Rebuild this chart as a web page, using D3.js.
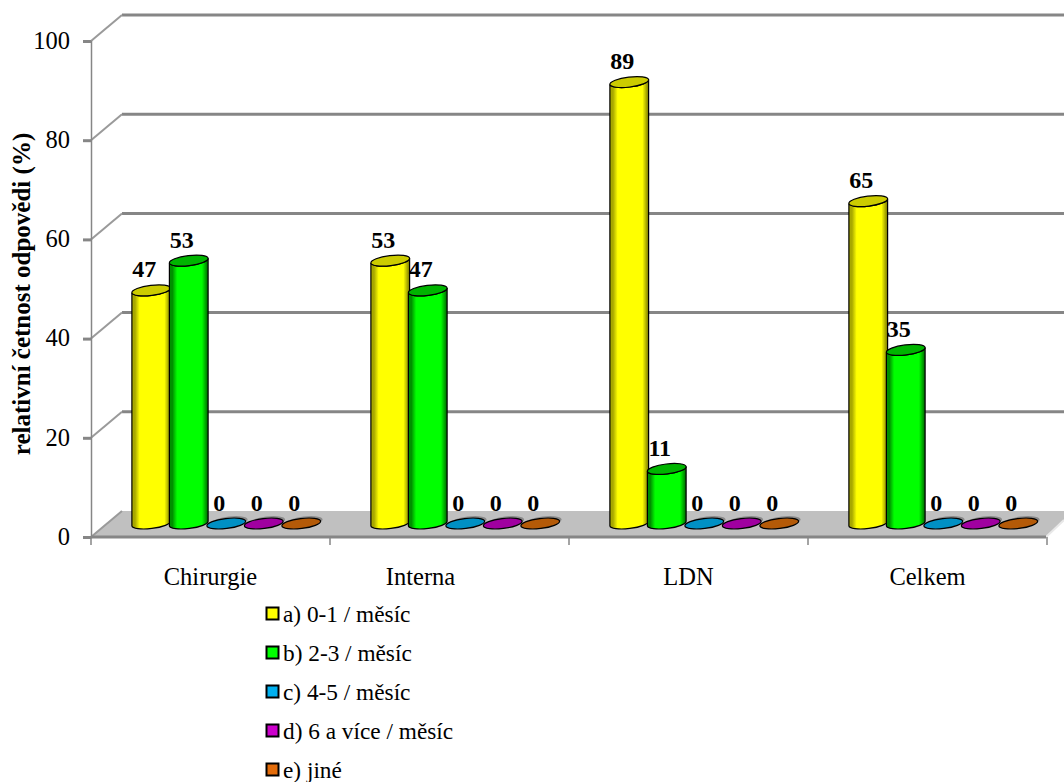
<!DOCTYPE html>
<html>
<head>
<meta charset="utf-8">
<script src="https://cdn.jsdelivr.net/npm/d3@7"></script>
<style>
  html, body { margin: 0; padding: 0; background: #fff; overflow: hidden; }
  svg { display: block; }
  text { font-family: "Liberation Serif", serif; fill: #000; }
</style>
</head>
<body>
<svg id="chart" width="1064" height="782"></svg>
<script>
const categories = ["Chirurgie", "Interna", "LDN", "Celkem"];
const seriesNames = ["a) 0-1 / měsíc", "b) 2-3 / měsíc", "c) 4-5 / měsíc", "d) 6 a více / měsíc", "e) jiné"];
const seriesA = [47, 53, 89, 65];
const seriesB = [53, 47, 11, 35];
const seriesC = [0, 0, 0, 0];
const seriesD = [0, 0, 0, 0];
const seriesE = [0, 0, 0, 0];
const yTicks = [0, 20, 40, 60, 80, 100];
const axisTitle = "relativní četnost odpovědi (%)";

const legendColors = ["#ffff00", "#00ff00", "#00b0f0", "#cc00cc", "#e36c0a"];
const topColors = ["#cccc00", "#00b400", "#0090c4", "#a000a0", "#b45a08"];
const edgeColors = ["#a8a800", "#009000", "#006a90", "#700070", "#803f00"];
const allSeries = [seriesA, seriesB, seriesC, seriesD, seriesE];

const svg = d3.select("#chart");
const GRID = "#868686";
const depth = { dx: 31, dy: -26 };

const x = d3.scaleBand().domain(categories).range([91, 1047]).padding(0);
const y = d3.scaleLinear().domain([0, 100]).range([537, 41]);
const series = d3.scaleBand().domain(d3.range(5)).range([0, 187.5]).padding(0);
const barOffset = 41.5;
const barBase = -13.5; // bars stand at mid-depth of the floor
const rx = 19.5, ry = 5, tilt = -7;
const tiltX = rx * Math.cos(tilt * Math.PI / 180);
const tiltY = rx * Math.sin(tilt * Math.PI / 180);

// Floor of the 3D plot box
const floor = d3.path();
floor.moveTo(x.range()[0], y(0));
floor.lineTo(x.range()[0] + depth.dx, y(0) + depth.dy);
floor.lineTo(1064, y(0) + depth.dy);
floor.lineTo(1064, y(0) - 17);
floor.lineTo(1046, y(0));
floor.closePath();
svg.append("path").attr("d", floor.toString()).attr("fill", "#c0c0c0");

// Back wall gridlines with the slanted segment running to the front axis
const gridG = svg.append("g").attr("fill", "none").attr("stroke", GRID);
gridG.selectAll("line.back").data(yTicks.slice(1)).join("line")
  .attr("class", "back")
  .attr("x1", x.range()[0] + depth.dx).attr("x2", 1064)
  .attr("y1", d => y(d) + depth.dy).attr("y2", d => y(d) + depth.dy)
  .attr("stroke-width", 3);
gridG.selectAll("line.side").data(yTicks).join("line")
  .attr("class", "side")
  .attr("x1", x.range()[0]).attr("x2", x.range()[0] + depth.dx)
  .attr("y1", d => y(d)).attr("y2", d => y(d) + depth.dy)
  .attr("stroke", "#9a9a9a")
  .attr("stroke-width", 2);
svg.append("line")
  .attr("x1", 1046).attr("y1", y(0)).attr("x2", 1064).attr("y2", y(0) - 17)
  .attr("stroke", "#e8e8e8").attr("stroke-width", 2);

// Axes
const yAxis = svg.append("g")
  .attr("transform", `translate(${x.range()[0]},0)`)
  .call(d3.axisLeft(y).tickValues(yTicks).tickSize(8).tickPadding(13));
yAxis.select(".domain").attr("stroke", GRID).attr("stroke-width", 1.5);
yAxis.selectAll(".tick line").attr("stroke", GRID).attr("stroke-width", 3);
yAxis.selectAll("text").style("font-size", "24.5px").attr("dy", "0.3em");

const xAxis = svg.append("g")
  .attr("transform", `translate(0,${y(0)})`)
  .call(d3.axisBottom(x).tickSize(0).tickPadding(31));
xAxis.select(".domain").attr("stroke", GRID).attr("stroke-width", 3).attr("d", "M91,0H1046");
xAxis.selectAll("text").style("font-size", "24.5px").attr("dy", "0.71em");
// The second category label sits left of its band centre
xAxis.selectAll(".tick").filter(d => d === "Interna").select("text").attr("dx", -29);
xAxis.selectAll(".tick line").remove();
svg.append("g").attr("transform", `translate(0,${y(0)})`)
  .selectAll("line").data(d3.range(5)).join("line")
  .attr("x1", i => x.range()[0] + i * x.step()).attr("x2", i => x.range()[0] + i * x.step())
  .attr("y1", 0).attr("y2", 8)
  .attr("stroke", GRID).attr("stroke-width", 1.5);

svg.append("text")
  .attr("transform", "translate(30,294) rotate(-90)")
  .attr("text-anchor", "middle")
  .attr("font-weight", "bold")
  .style("font-size", "25px")
  .text(axisTitle);

// Horizontal shading across each cylinder wall
const defs = svg.append("defs");
legendColors.forEach((c, i) => {
  const g = defs.append("linearGradient").attr("id", `wall${i}`);
  [[0, edgeColors[i]], [0.08, edgeColors[i]], [0.2, c], [0.84, c], [1, d3.color(edgeColors[i]).darker(1).formatHex()]]
    .forEach(([o, col]) => g.append("stop").attr("offset", o).attr("stop-color", col));
});

const marks = svg.append("g");
const labels = svg.append("g");
categories.forEach((cat, ci) => {
  allSeries.forEach((vals, si) => {
    const v = vals[ci];
    const cx = x(cat) + barOffset + series(si) + series.bandwidth() / 2;
    const yBase = y(0) + barBase;
    const yTop = y(v) + barBase;
    const g = marks.append("g");
    if (v > 0) {
      const d = `M${cx - tiltX},${yTop - tiltY}` +
        `L${cx - tiltX},${yBase - tiltY}` +
        `A${rx},${ry} ${tilt} 0 0 ${cx + tiltX},${yBase + tiltY}` +
        `L${cx + tiltX},${yTop + tiltY}` +
        `A${rx},${ry} ${tilt} 0 1 ${cx - tiltX},${yTop - tiltY}Z`;
      g.append("path").attr("d", d)
        .attr("fill", `url(#wall${si})`)
        .attr("stroke", "#000").attr("stroke-width", 1.2);
    } else {
      g.append("ellipse")
        .attr("transform", `translate(${cx + 3},${yTop - 2}) rotate(${tilt})`)
        .attr("rx", rx - 1).attr("ry", ry)
        .attr("fill", "#8a8a8a");
    }
    g.append("ellipse")
      .attr("transform", `translate(${cx},${yTop}) rotate(${tilt})`)
      .attr("rx", rx).attr("ry", ry)
      .attr("fill", topColors[si])
      .attr("stroke", "#000").attr("stroke-width", 1.2);
    labels.append("text")
      .attr("x", cx - 7).attr("y", yTop - 13)
      .attr("text-anchor", "middle")
      .attr("font-weight", "bold")
      .style("font-size", "24px")
      .text(v);
  });
});

// Legend stacked below the category labels
const legendY = d3.scalePoint().domain(seriesNames).range([614, 770]);
const legend = svg.append("g").selectAll("g").data(seriesNames).join("g")
  .attr("transform", d => `translate(266,${legendY(d)})`);
legend.append("rect")
  .attr("x", 0.5).attr("y", -6.5).attr("width", 12).attr("height", 12)
  .attr("fill", (d, i) => legendColors[i])
  .attr("stroke", "#000").attr("stroke-width", 2);
legend.append("text")
  .attr("x", 17).attr("y", 8)
  .style("font-size", "23.3px")
  .text(d => d);
</script>
</body>
</html>
